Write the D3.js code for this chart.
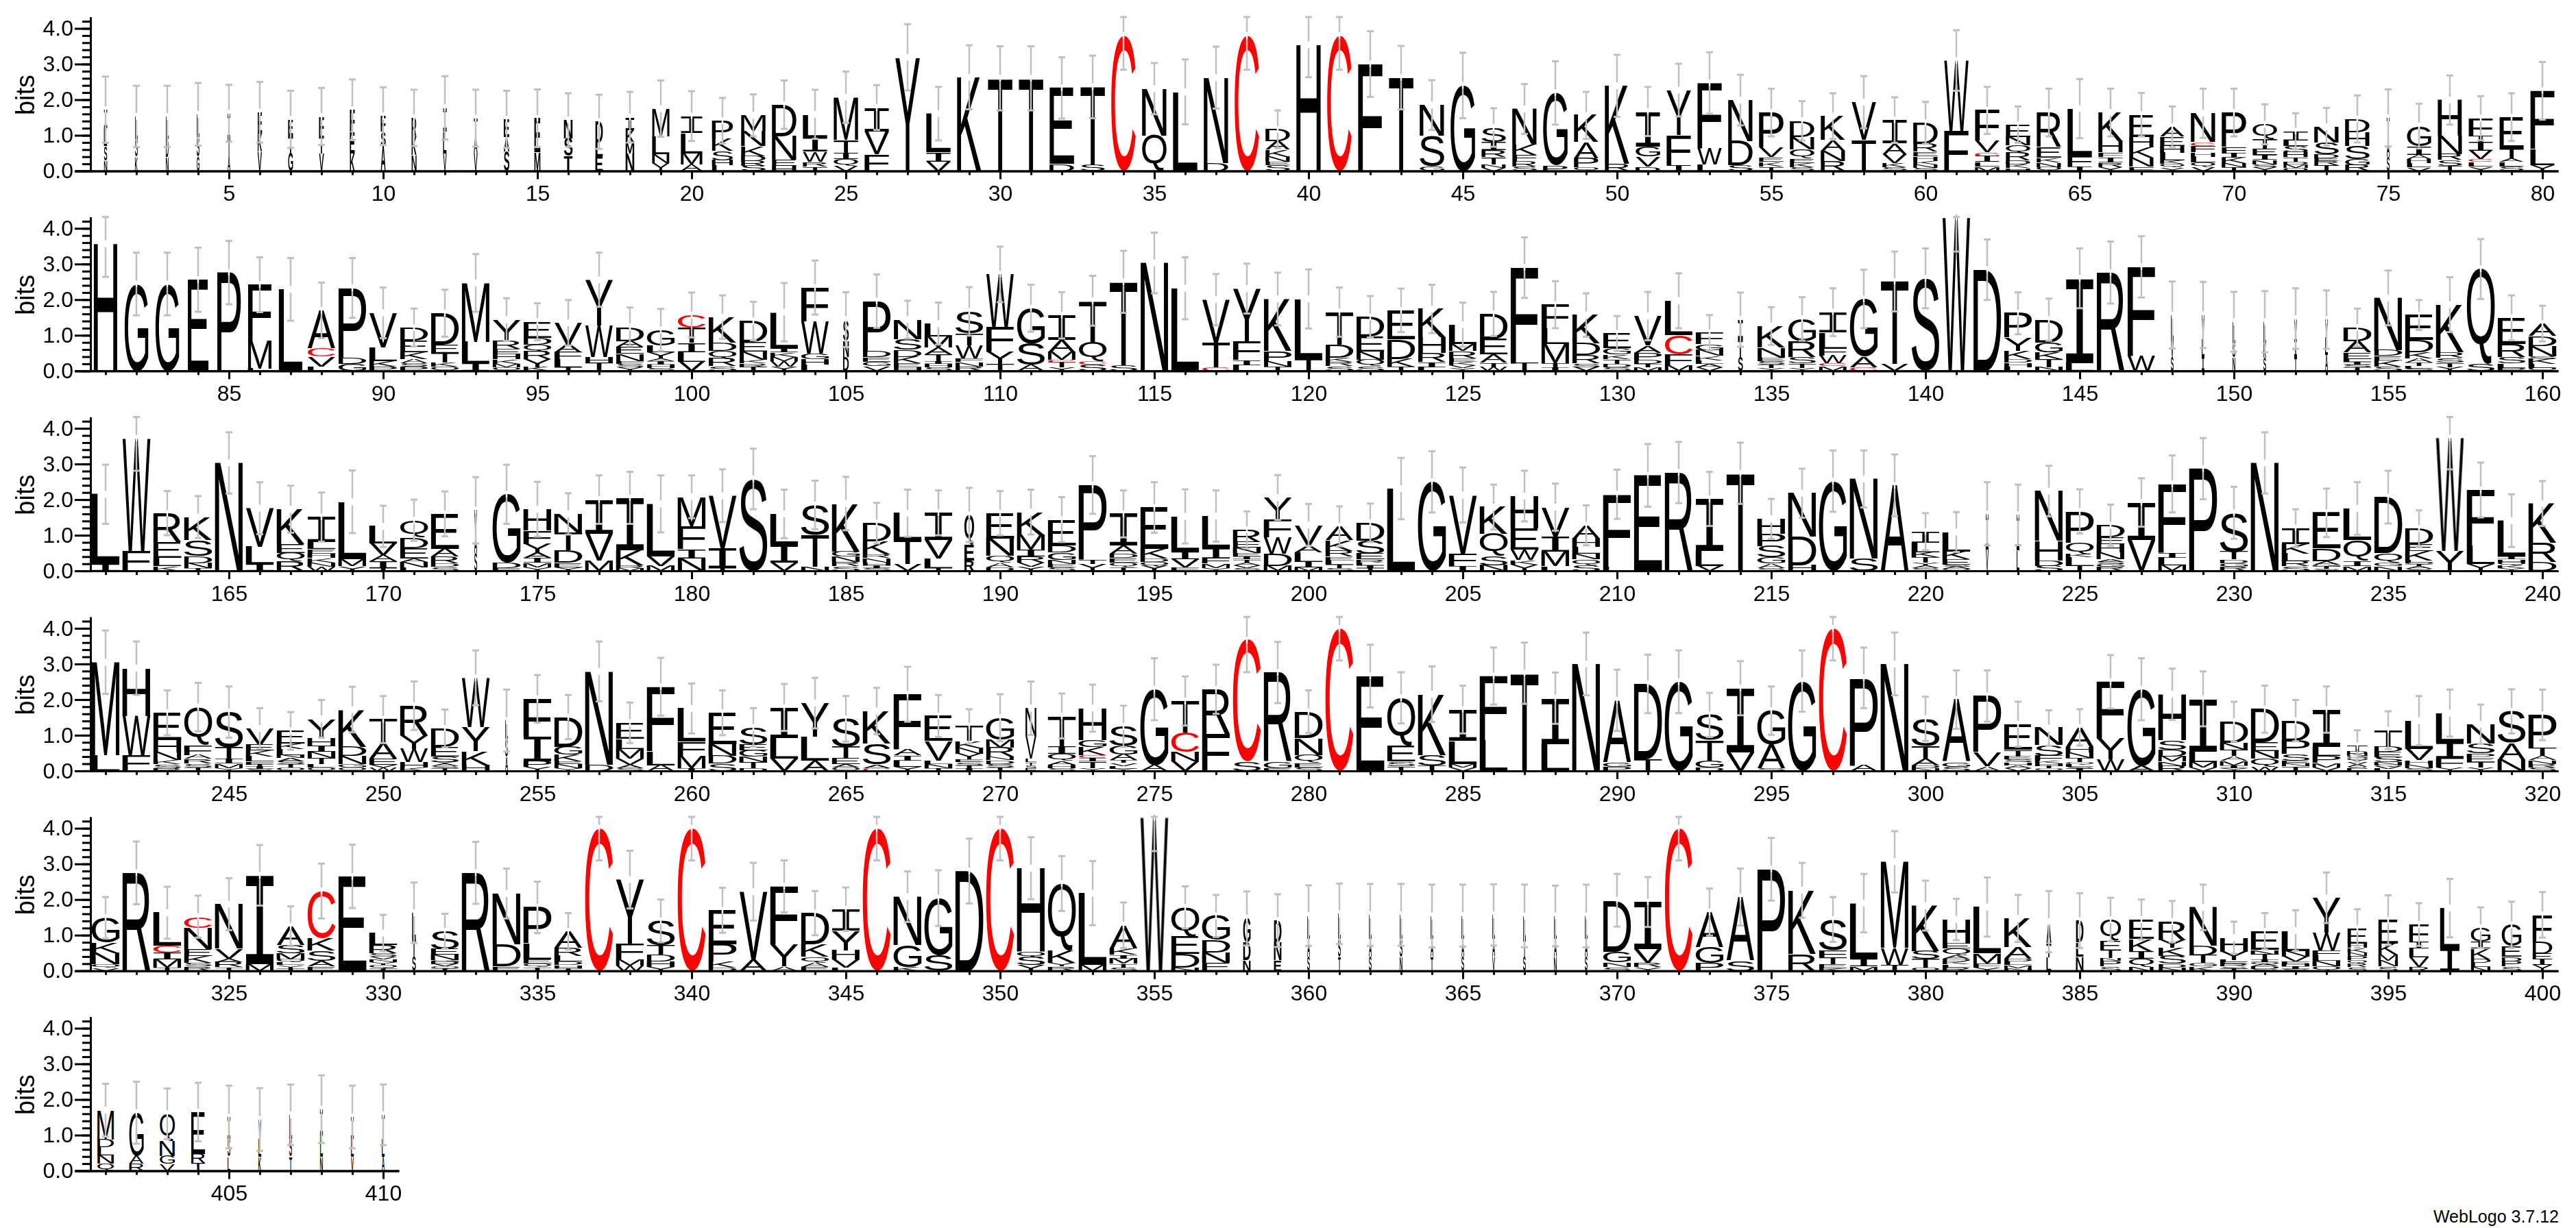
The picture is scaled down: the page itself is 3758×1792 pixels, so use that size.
<!DOCTYPE html>
<html><head><meta charset="utf-8">
<style>html,body{margin:0;padding:0;background:#fff}svg{display:block}
text{font-family:"Liberation Sans",Arial,sans-serif}</style>
<script src="https://cdn.jsdelivr.net/npm/d3@7"></script></head><body>
<script>
// Each stack: residue + height in 1/100 bit, listed bottom to top.
const stacksA = ["N30 S40 L50 I52","K40 S50 L63","N40 D50 L63","G40 S55 L64","A40 T50 I72","V55 K50 E60","G50 T50 E45","V50 T50 F53","K50 E60 F62","A70 S40 F44","N45 K50 R54","V50 L60 I67","V48 A50 T50","S55 A40 E50","M52 E96","T42 S50 N51","E42 L38 D58","N50 M30 K35 I36","Y23 N25 L50 M77","A18 M32 L56 I48","L16 H14 S26 K34 P51","S14 R14 D14 K28 N42 M44","H15 E16 N67 D88","T13 R13 W28 I40 L65","V15 Q18 I17 T38 M119","F47 V64 I67","Y319","V26 I26 L109","K263","T260","T260","D20 E213","S18 T218","C380","Q100 N131","L222","D22 N240","C380","S16 E10 N14 K20 A24 D33","H354","C380","F300","T262","G13 S86 N86","G240","V9 N10 T20 R20 I23 S40","S13 R14 F18 K29 N100","P15 G204","Q10 P26 A45 K75","R20 K219","D13 V28 G28 I98","I17 F84 Y126","L19 W46 F182","S16 D68 N115","T13 K13 E13 V27 P98","S11 K11 E13 Q26 N35 D45","R27 N30 A30 K67","T87 V106","S11 K11 V25 A30 I66","S8 N10 K10 H13 E13 R22 D59","F113 W197","M13 L13 I16 C11 V32 F85","H8 K10 D11 R22 Q21 N24 E34","Q11 N13 K13 E30 R97","I13 F29 L133","Y11 R13 I15 F13 H31 K81","F13 N25 K29 H29 E62","Y10 Q10 K10 L21 H20 E25 A28","V12 Q12 L16 H12 F18 C11 N81","T11 N11 K15 I13 F18 P96","Y11 S8 N12 I14 E16 T30 Q40","Q9 M9 D8 T13 H14 S17 L16 I25","T16 R11 E8 D12 S32 N45","R17 G17 S37 H38 D37","S40 A50 T59","V10 L13 H11 A12 I24 G56","T15 S16 R16 N52 H100","Y12 L13 C8 V24 I25 T16 F50","S12 L13 A10 T27 E89","Y17 L45 F163"];
const stacksB = ["H357","G244","G244","E256","P276","L7 M78 F157","L229","L13 V27 C23 A107","G19 D16 P198","P13 K15 L38 V97","P12 S10 A11 K20 E32 D37","Q12 K11 T27 E23 D89","I21 L61 M165","Q10 M10 K13 H14 E14 R23 Y60","K11 Y22 R21 Q20 D19 E45","T10 L22 F21 A21 V61","T21 H18 W89 Y128","Y10 S10 F8 N20 E20 A16 D40","S8 H10 I10 A7 Y18 L19 G43","V26 L27 I26 T43 C35","S13 R22 Q22 D22 K72","T11 R10 K10 N23 E28 D58","Y13 W15 M11 K13 I11 L102","L18 H15 G15 W92 F94","D40 N45 S59","V13 G13 E13 D16 P141","H10 E11 K19 D19 S30 N55","S10 H10 I8 T19 A19 M31 L36","R13 N13 F10 W36 T33 S62","T19 Y35 F68 W149","A17 S60 G99","Y10 T14 C7 M22 A35 I68","S17 C11 Q54 T115","S16 T234","N303","L232","C10 T70 V120","L16 I15 F52 Y148","T12 N14 P30 K146","T32 L170","S13 R12 K12 D36 T92","S13 Q19 N23 E41 D56","T13 K21 D55 E81","L11 I15 R25 H43 K80","Y8 V8 K10 E10 R20 M20 L54","W11 T13 A22 E44 D70","T21 F269","I10 T12 M54 L44 F66","V11 S10 R23 D33 K80","S10 D10 T13 K13 G18 E41","M10 T10 D12 P19 A20 V83","M14 F32 C54 L97","V10 A10 L10 K12 N17 G16 F32","S40 T50 I54","Y8 T10 S10 E10 N28 K60","Y8 T13 S18 R44 G63","M13 C8 W21 F21 L45 I57","C10 A30 G162","V19 T232","S260","W430","D284","L11 H13 D10 K23 Y37 P68","N11 T22 K19 G27 D65","L22 I238","R276","W42 F250","S40 V50 L67","I40 L50 V67","N38 S40 L60","S38 K40 L60","T40 I50 V57","A44 L50 V50","T10 S8 I8 L8 E18 A32 D38","S13 K16 E13 D16 N147","S7 L7 T10 A11 K18 D34 E70","Y11 T13 S13 R15 K134","S19 Q267","P8 L13 S17 R38 E73","Q8 L11 K15 S7 N29 D28 A35"];
const stacksC = ["I19 L196","F56 W316","K13 L24 E44 R81","T8 N14 D20 S44 K65","N303","I19 L48 V109","R27 Q24 E24 K98","W12 N12 K12 H13 E12 L20 I70","Y13 M20 L161","T8 I19 A17 V33 L48","L10 N15 A10 E29 D30 Q48","S11 D10 R19 A22 E98","S50 A50 V70","F8 D14 G193","Y10 M13 I13 A14 Y26 F37 H60","Y10 E13 D35 T50 N52","M30 V75 I95","M8 R8 K42 I147","M14 V26 L148","N35 I26 F65 M82","T8 I56 V147","S258","V23 I50 L87","N11 T90 S84","S13 R13 N15 G14 K134","S8 I8 H8 N12 R10 K37 D51","V19 T68 L75","T8 L26 V52 I77","R30 E45 Q82","D10 A12 Q20 N49 E71","Y11 V13 R16 I19 M42 K64","S10 E10 N11 G21 D20 E72","Y19 T13 P209","T10 Q13 E13 D13 A22 I89","Y14 Q11 D10 K26 E117","F10 V22 I22 L99","Y8 M13 F14 I29 L90","S8 V8 A8 T8 I8 E10 N15 E16 R34","M14 D34 W46 F48 Y64","M10 I16 L26 A20 V57","S8 T10 L12 E10 R16 K30 A39","T8 I8 L8 R8 E16 S37 D50","L231","G250","I14 F33 V166","N16 S26 Q62 K75","Y18 K13 W29 E60 H90","L13 M42 I42 V82","S16 Q17 N15 L19 H24 A37","L12 F203","E268","R276","V14 L42 I146","T274","S8 A13 G17 S32 P35 H41","H16 D80 N122","G252","S35 N223","A240","S8 A8 Y8 T15 K14 L26 I31","Q6 A6 S6 E15 K22 L54","V60 I100","L57 I100","S14 D15 H55 N140","T14 L24 K10 Q32 P87","R11 G8 S7 A7 N19 H23 E19 D34","V87 I105","M16 L21 I15 F192","P287","R11 G11 D10 T21 S110","N303","S13 R14 L22 K26 I45","S6 T6 G6 A10 D35 E100","M13 I15 Q58 L89","N13 G11 Q26 D157","S6 A6 T6 Q6 L6 K26 E19 D44","Y56 W317","Y19 L51 F157","Y8 K8 Q8 H8 I8 L101","D24 R55 K110"];
const stacksD = ["L44 M261","F44 W110 H134","R8 S11 K11 N22 H35 E76","T10 S11 R13 A11 F28 Q106","Y8 M13 I13 T32 S99","S6 I6 T6 F8 L15 K16 E16 V46","Q9 T9 S9 A9 N9 L16 K15 E36","Q10 L9 T17 N18 I16 H21 Y55","Q10 G10 N22 D26 K104","W10 V8 E16 A44 T66","K10 H14 W38 Y38 R83","T7 S6 A6 Y6 S16 E26 D52","H16 K40 Y67 W138","A40 S50 L51","Y11 P16 I69 F106","Y8 N11 E8 K19 G22 D83","D18 N261","S8 A10 V16 M28 L28 E45","A16 L40 F180","I8 M35 F39 L93","S21 D21 N32 E89","D8 T16 N15 G19 E16 S48","V35 L58 I85","A29 L67 Y94","Q10 A9 E17 T32 S78","C8 A10 S58 K92","Y12 L17 I14 A16 F156","T8 N11 L10 V55 E70","I8 T8 S8 E8 Y16 N16 K20 T41","T10 S10 D10 N10 R26 M22 G61","F8 S8 T8 L10 V64 N78","S8 H10 A10 Q19 I22 T85","Y8 T18 I10 C8 K22 G21 H89","Y6 L8 V8 T8 A16 G24 S55","A16 G213","V26 N26 C56 T88","F103 R126","S26 C341","E8 G17 R251","S10 E13 Q22 N47 D74","C400","E266","T13 S13 E45 Q134","T14 S30 K171","V10 M10 L64 I88","L87 F179","T274","L75 I129","N300","P11 G13 A174","T33 D211","G250","D10 G19 T58 S70","V51 I181","S8 A66 G95","G252","C400","A16 P245","N300","N8 D8 A19 T35 S76","S12 G13 A175","A13 V40 P157","V8 A8 H8 S8 E9 T18 E72","Q7 T7 H7 K7 F14 S30 N48","I6 S6 L6 Q6 T13 N15 H15 A55","W32 Y58 F160","A14 G215","R14 N13 M14 D19 S26 H129","V10 M14 L30 I148","Y8 I8 M13 A13 T17 N19 D60","W13 Q21 N22 E24 D93","T13 N8 E8 S18 P38 D56","V10 M13 P19 L26 I104","L6 S6 A6 V6 Y6 Q6 G6 N6 D6 T16","L6 V6 Q6 N6 S15 E14 D15 T46","S8 N9 H13 V32 L79","Y10 F26 I45 L81","Y10 T14 E13 P13 S27 N54","N31 A48 S88","S10 R10 N10 A13 T21 P93"];
const stacksE = ["V8 Q10 N32 K30 G69","R275","T10 M23 I18 C19 L93","R13 S10 K19 E19 N60 C31","T10 R15 A10 V27 N125","M19 I249","T8 Y8 L8 Q8 M18 S22 A53","E13 A15 S29 K35 C132","E265","T8 Q8 Y8 N8 V8 S10 R22 L34","S40 T50 L73","T6 Q6 V6 D6 G6 N15 E16 S50","R275","E13 D62 N142","T10 Q10 E13 L45 P100","T8 H8 D10 L16 R22 A47","C400","W15 M18 F44 Y179","Y11 H15 D19 T27 S68","C400","D10 K17 P48 E95","A31 V191","A13 Y61 F163","E11 A11 Q17 K35 D88","L10 V22 H26 Y55 I60","C400","K11 G61 N136","S44 G160","D280","C400","Y17 S22 Q16 H233","R13 Y10 K35 Q187","M16 L202","S10 T10 M15 I10 K18 A65","W429","N10 D38 E48 Q82","E22 N30 D34 G68","N30 D50 G67","E30 N50 D61","S40 A50 L65","T40 S50 L70","S40 A50 L67","N40 S50 L67","T40 A50 L64","S40 A50 L65","V40 A50 L67","S40 T50 L64","N40 A50 L64","S40 A50 L64","S11 N13 G30 D144","Y10 R13 V38 I132","C400","P21 G45 A99","S28 A179","P285","R48 K178","K8 E11 T19 F19 S87","M13 I22 L155","T17 W47 M242","Q10 T24 S22 K127","R10 L8 K8 D8 A10 Q19 E14 H67","Y10 F11 M28 L130","N8 M8 L10 D8 A32 K81","L38 T40 A60","N40 L40 D61","S13 P15 N8 T22 E26 Q60","N13 Q21 I20 K35 E55","N10 D10 S22 K22 Y22 R52","K13 G9 T21 D27 N108","T6 S6 R6 E6 L6 Y24 H39","S6 D6 A6 Q6 I6 T16 N13 E52","S6 I6 H6 F8 V14 N16 L57","Q13 N15 L14 F15 W50 Y98","S10 R10 Q10 P11 N10 K13 H13 E42","S13 N16 M16 K31 E66","R11 V26 L26 I18 F49","I63 L113","N11 L11 D11 K30 I19 G39","S13 P14 D13 E29 G60","Y16 I16 E16 D35 F74"];
const stacksF = ["Q20 N24 L22 D22 M82","R20 A22 G121","V19 G22 N42 Q77","T22 R26 E117","L40 S50 I61","K40 L50 V54","T40 S50 L67","N40 L60 I73","V40 L50 I61","A40 L50 T67"];

// Half-width of each error bar, in bits.
const errorsA = [.93,.86,.86,.88,.8,.85,.8,.8,.85,.81,.79,.89,.8,.8,.81,.75,.76,.71,.79,.7,.64,.59,.68,.69,.72,.63,.93,.75,.9,.9,.9,.86,.88,.96,.72,.91,.87,.96,.53,.91,.96,.92,.89,.7,.92,.54,.7,.89,.66,.87,.69,.74,.86,.71,.67,.55,.64,.73,.64,.59,.85,.66,.51,.67,.83,.67,.61,.57,.69,.67,.56,.51,.53,.66,.8,.63,.69,.62,.67,.81];
const errorsB = [.93,.88,.88,.9,.89,.77,.88,.78,.84,.71,.53,.66,.81,.6,.52,.64,.76,.54,.59,.63,.61,.54,.82,.76,.77,.75,.53,.59,.68,.78,.66,.65,.7,.87,.85,.87,.72,.7,.74,.83,.69,.58,.61,.68,.62,.62,.85,.66,.61,.49,.68,.77,.5,.76,.53,.61,.67,.82,.84,.84,.95,.85,.59,.59,.84,.87,.86,.94,.93,.84,.86,.85,.82,.53,.77,.42,.77,.84,.63,.5];
const errorsC = [.83,.91,.62,.59,.86,.73,.66,.69,.88,.58,.58,.63,.93,.83,.77,.58,.68,.73,.8,.6,.74,.85,.68,.68,.75,.57,.66,.63,.76,.62,.63,.63,.81,.66,.71,.76,.72,.52,.63,.59,.56,.54,.86,.86,.77,.63,.71,.66,.56,.69,.88,.86,.76,.86,.56,.69,.86,.8,.87,.52,.56,.89,.85,.71,.62,.58,.68,.8,.86,.73,.86,.53,.68,.74,.74,.51,.88,.77,.74,.63];
const errorsD = [.89,.75,.63,.68,.72,.57,.53,.53,.64,.66,.68,.53,.77,.87,.67,.62,.84,.57,.81,.7,.63,.54,.66,.71,.64,.65,.77,.59,.48,.66,.75,.63,.66,.58,.87,.69,.69,.9,.86,.6,.9,.88,.72,.78,.67,.8,.86,.72,.88,.86,.82,.88,.62,.76,.68,.86,.9,.85,.88,.62,.82,.72,.63,.5,.51,.75,.87,.72,.77,.56,.66,.58,.65,.44,.53,.69,.66,.55,.62,.71];
const errorsE = [.58,.88,.73,.59,.73,.85,.56,.77,.89,.51,.85,.49,.87,.7,.72,.51,.9,.81,.6,.9,.63,.81,.73,.62,.61,.9,.71,.78,.91,.9,.87,.77,.9,.64,.93,.59,.59,.76,.74,.85,.85,.87,.87,.88,.87,.86,.88,.85,.88,.74,.7,.9,.66,.8,.88,.77,.63,.82,.86,.7,.58,.83,.66,.86,.77,.61,.56,.58,.64,.45,.51,.57,.71,.54,.7,.6,.82,.57,.65,.64];
const errorsF = [.74,.87,.71,.82,.88,.88,.85,.95,.88,.85];

// Fraction of each column that is occupied (drives stack width), as [fraction, run length].
const occupancyRunsA = [[.11,1],[.06,2],[.09,2],[.15,1],[.17,5],[.12,1],[.13,1],[.19,1],[.21,1],[.3,1],[.26,1],[.3,1],[.6,1],[.75,1],[.73,1],[.85,53],[.1,1],[.84,5]];
const occupancyRunsB = [[.82,3],[.72,1],[.82,3],[.96,17],[.2,1],[.96,28],[.17,1],[.96,13],[.08,2],[.07,4],[.97,7]];
const occupancyRunsC = [[.97,12],[.1,1],[.97,15],[.34,1],[.97,32],[.03,2],[.97,17]];
const occupancyRunsD = [[.97,13],[.09,1],[.97,16],[.38,1],[.97,42],[.72,1],[.97,6]];
const occupancyRunsE = [[.97,10],[.13,1],[.97,26],[.26,2],[.04,2],[.07,1],[.04,2],[.05,1],[.04,4],[.96,14],[.17,1],[.26,1],[.72,1],[.86,1],[.95,2],[.97,4],[.68,7]];
const occupancyRunsF = [[.57,1],[.5,1],[.52,1],[.48,1],[.08,1],[.07,1],[.04,1],[.07,1],[.06,2]];

const stacks = [...stacksA,...stacksB,...stacksC,...stacksD,...stacksE,...stacksF];
const errors = [...errorsA,...errorsB,...errorsC,...errorsD,...errorsE,...errorsF];
const occupancy = [...occupancyRunsA,...occupancyRunsB,...occupancyRunsC,...occupancyRunsD,...occupancyRunsE,...occupancyRunsF].flatMap(([v,n])=>Array(n).fill(v));
const yMajor = [0,1,2,3,4];
const yMinor = d3.range(0,4.3,0.2);
const perRow = 80;
const footer = "WebLogo 3.7.12";

const W=3758,H=1792, firstZero=249.5, rowStep=291.8, bit=52, colStep=45, firstX=154, stackW=42;
const svg=d3.select("body").append("svg").attr("width",W).attr("height",H);
svg.append("rect").attr("width",W).attr("height",H).attr("fill","#fff");

const ctx=document.createElement("canvas").getContext("2d");
const FS=200, cache={};
function family(l){return l==="I"?'"Liberation Mono"':'"Liberation Sans"';}
function box(l,weight){
  const k=l+weight;
  if(cache[k])return cache[k];
  ctx.font=`${weight} ${FS}px ${family(l)}`;
  const m=ctx.measureText(l);
  return cache[k]={l:m.actualBoundingBoxLeft,r:m.actualBoundingBoxRight,a:m.actualBoundingBoxAscent,d:m.actualBoundingBoxDescent};
}
const parse=s=>s.split(" ").map(t=>({letter:t[0],h:+t.slice(1)/100}));

d3.range(0,Math.ceil(stacks.length/perRow)).forEach(r=>{
  const first=r*perRow+1, last=Math.min(first+perRow-1,stacks.length);
  const zero=firstZero+r*rowStep;
  const x=d3.scaleLinear().domain([first-1,last+0.51]).range([firstX-colStep,firstX+(last-first+0.51)*colStep]);
  const y=d3.scaleLinear().domain([0,4.32]).range([zero,zero-4.32*bit]);
  const g=svg.append("g");
  const cols=d3.range(first,last+1);

  // letters (group opacity forces greyscale antialiasing so thin columns stay black)
  const lg=g.append("g").style("opacity",0.999);
  cols.forEach(p=>{
    const occ=occupancy[p-1], weight=occ<.35?700:400;
    const w=Math.max(stackW*occ,4), x0=x(p)-w/2;
    let acc=0;
    parse(stacks[p-1]).forEach(s=>{
      const b=box(s.letter,weight), y0=y(acc), y1=y(acc+s.h);
      acc+=s.h;
      const sx=w/(b.l+b.r), sy=(y0-y1)/(b.a+b.d);
      lg.append("text").text(s.letter)
        .attr("transform",`translate(${x0},${y0}) scale(${sx},${sy})`)
        .attr("x",b.l).attr("y",-b.d)
        .style("font-family",family(s.letter)).attr("font-weight",weight).attr("font-size",FS)
        .attr("fill",s.letter==="C"?"#ff0000":"#000");
    });
  });

  // error bars
  const eb=g.append("g");
  cols.forEach(p=>{
    const top=d3.sum(parse(stacks[p-1]),d=>d.h), e=errors[p-1];
    const yt=y(top), yu=y(Math.min(top+e,4.32)), yl=y(top-e), cx=x(p);
    eb.append("line").attr("x1",cx).attr("x2",cx).attr("y1",yt-5).attr("y2",yt+5).attr("stroke","#fff").attr("stroke-width",2.5);
    [[yu,yt-5],[yt+5,yl]].forEach(([a,b])=>eb.append("line").attr("x1",cx).attr("x2",cx).attr("y1",a).attr("y2",b).attr("stroke","#c0c0c0").attr("stroke-width",2.5));
    [yu,yl].forEach(v=>eb.append("line").attr("x1",cx-5).attr("x2",cx+5).attr("y1",v).attr("y2",v).attr("stroke","#c0c0c0").attr("stroke-width",3));
  });

  // axes
  const style=a=>{a.selectAll("path,line").attr("stroke","#000").attr("stroke-width",3);a.selectAll("text").attr("font-size",32).style("font-family",'"Liberation Sans"').attr("fill","#000");};
  const yMin=g.append("g").attr("transform",`translate(${firstX-22},0)`).call(d3.axisLeft(y).tickValues(yMinor).tickSize(12).tickSizeOuter(0).tickFormat("")); style(yMin);
  const yMaj=g.append("g").attr("transform",`translate(${firstX-22},0)`).call(d3.axisLeft(y).tickValues(yMajor).tickSize(23).tickSizeOuter(0).tickPadding(2).tickFormat(d3.format(".1f"))); style(yMaj);
  const xMin=g.append("g").attr("transform",`translate(0,${zero})`).call(d3.axisBottom(x).tickValues(cols).tickSize(6).tickSizeOuter(0).tickFormat("")); style(xMin);
  const xMaj=g.append("g").attr("transform",`translate(0,${zero})`).call(d3.axisBottom(x).tickValues(cols.filter(p=>p%5===0)).tickSize(12).tickSizeOuter(0).tickPadding(9).tickFormat(d3.format("d"))); style(xMaj);

  g.append("text").text("bits").attr("transform",`translate(50,${zero-111}) rotate(-90)`).attr("text-anchor","middle").attr("font-size",38).attr("fill","#000");
});

svg.append("text").text(footer).attr("x",3733).attr("y",1784).attr("text-anchor","end").attr("font-size",25).attr("fill","#000");
</script></body></html>
